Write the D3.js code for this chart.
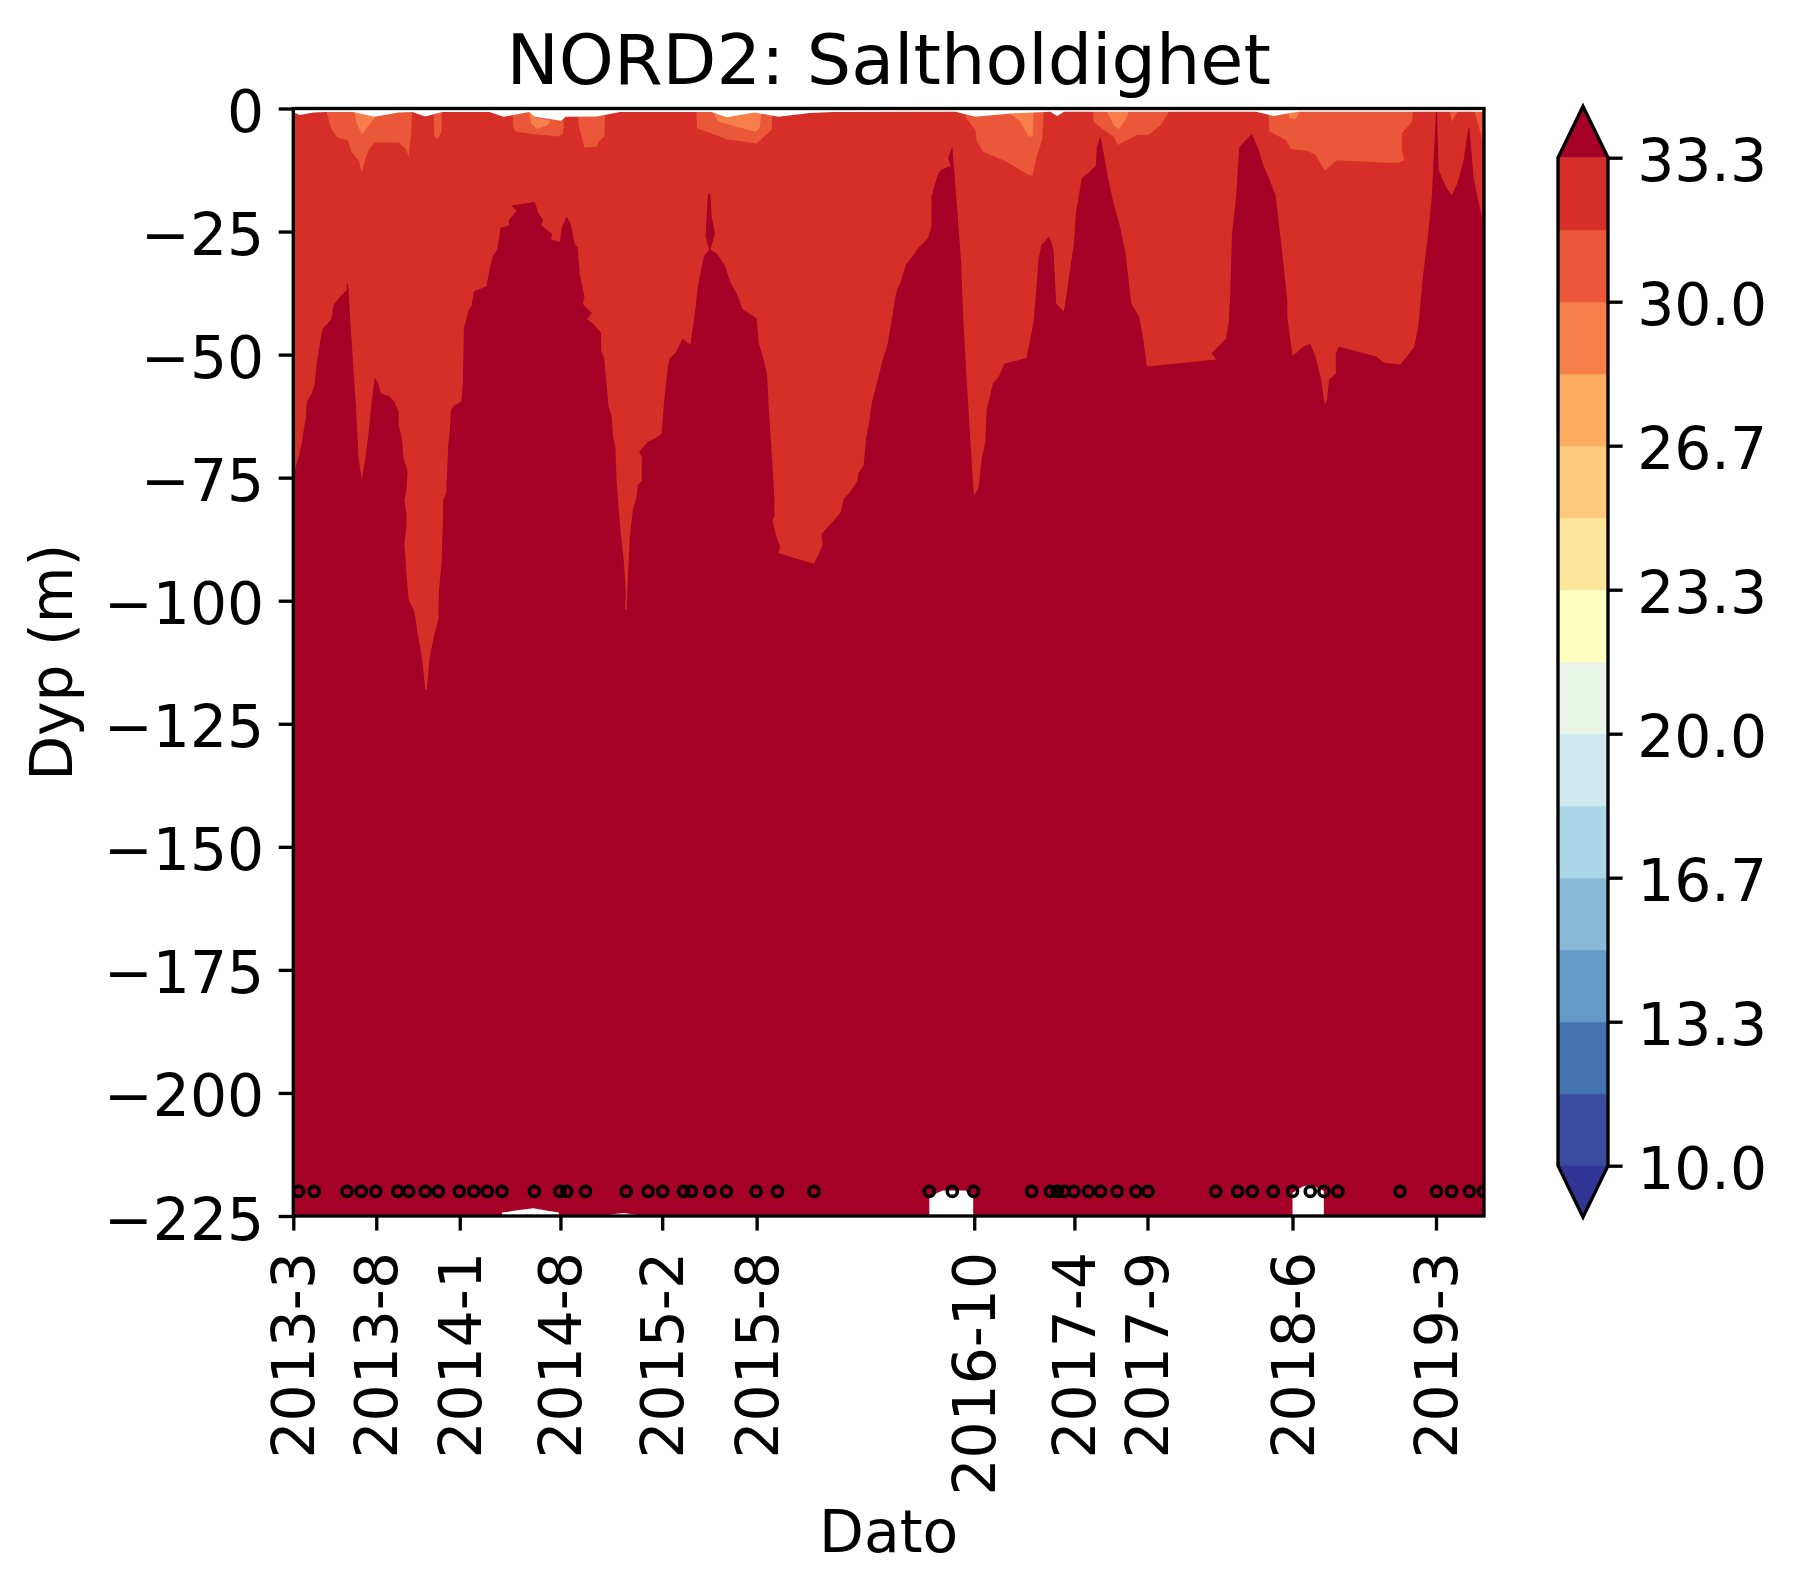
<!DOCTYPE html>
<html>
<head>
  <meta charset="utf-8">
  <title>NORD2: Saltholdighet</title>
  <script src="https://d3js.org/d3.v7.min.js"></script>
  <style>
    body { margin: 0; background: #fff; }
    text { font-family: "DejaVu Sans", sans-serif; fill: #000; }
  </style>
</head>
<body>
  <div id="chart"></div>
  <script>
// all x values are days since the first sample (2013-3)
const tickDays = [0, 159, 319, 512, 707, 888, 1305, 1497, 1637, 1915, 2190];
const tickLabels = ["2013-3", "2013-8", "2014-1", "2014-8", "2015-2", "2015-8", "2016-10", "2017-4", "2017-9", "2018-6", "2019-3"];
const depthTicks = [0, -25, -50, -75, -100, -125, -150, -175, -200, -225];
const colorLevels = [10, 13.333, 16.667, 20, 23.333, 26.667, 30, 33.333];
const bandColors = ["#3a4ba0", "#4474b0", "#639ac6", "#8ab9d8", "#abd7e8", "#cfe9f1", "#e9f5e7", "#feffc0", "#fde69c", "#fdca7d", "#fdad60", "#f67f4b", "#ea5739", "#d62f27"];
const overColor = "#a50026";
const underColor = "#313694";

const sampleDays = [10, 40, 103, 130, 158, 200, 221, 253, 278, 318, 346, 372, 400, 462, 511, 524, 560, 638, 680, 708, 748, 763, 798, 830, 887, 928, 998,
  1219, 1263, 1304, 1415, 1451, 1464, 1477, 1496, 1524, 1547, 1579, 1615, 1638, 1768, 1810, 1838, 1878, 1915, 1949, 1975, 2002, 2121, 2191, 2220, 2254, 2281];
const sampleDepth = -220;

// upper edge of the deepest band (salinity above 33.3): [day, depth below surface]
const deepEdge = [[0,75],[3,73.3],[9,71.3],[16,68.1],[20,65.3],[24,62.9],[26,59.6],[35,58],[41,56],[44,52.4],[50,48.4],[56,44.8],[73,42.8],[77,40],[88,38.4],[103,36.8],[102,35.6],[105,35.6],[107,38.8],[111,46],[115,52.4],[120,60.4],[125,70.9],[131,75.3],[138,71.3],[145,65.3],[150,59.6],[156,54.7],[162,55.6],[168,57.9],[183,58.4],[194,59.6],[202,61.6],[202,64.5],[208,66.9],[211,70.9],[219,73.7],[217,77.3],[213,79.7],[217,82.5],[217,84.5],[213,88.5],[217,94.9],[221,99.8],[232,102.2],[240,107.8],[247,111.8],[253,118.1],[256,118.1],[261,111.8],[270,107],[278,103.8],[279,98.2],[284,92.5],[287,82.9],[287,79.7],[293,78.1],[297,68.5],[300,65.3],[302,61.2],[308,60.4],[322,59.6],[325,55.6],[327,44.4],[331,43.2],[335,41.2],[342,40],[346,37.2],[370,36.1],[376,32.8],[382,30],[391,28.7],[397,24.3],[414,23.7],[413,22.7],[428,20.7],[418,19.7],[463,19],[469,21.1],[479,22.7],[475,23.7],[496,25.5],[494,26.6],[511,27.1],[514,24.3],[524,21.9],[532,23.5],[539,27.5],[545,28.3],[549,33.6],[558,38.4],[555,39.7],[572,41.6],[563,42.8],[573,43.6],[590,45.6],[590,49.2],[596,50.8],[600,55.6],[604,60.4],[610,62.5],[613,66.9],[617,68.5],[620,76.5],[626,84.5],[634,92.5],[637,98.2],[636,101.8],[639,101.8],[640,98.2],[645,86.9],[651,81.3],[658,78.9],[660,76.5],[668,75.7],[668,70.9],[663,69.7],[680,67.7],[695,66.9],[706,66.1],[710,60.4],[716,54],[721,50.8],[733,49.6],[746,46.8],[761,48],[767,43.6],[771,40.4],[775,36.4],[782,32.4],[787,30],[797,28.7],[790,25.9],[793,20.3],[795,17.3],[799,17.3],[802,21.9],[808,25.5],[799,28.7],[812,29.5],[827,31.9],[839,35.6],[850,37.6],[861,40.8],[888,42.6],[892,47.6],[903,51.6],[908,54],[911,60.4],[914,65.3],[918,71.7],[922,79.7],[922,82.9],[918,83.7],[928,87.7],[933,88.9],[930,90.3],[960,91.3],[998,92.5],[1009,90.1],[1015,88.5],[1012,86.5],[1036,83.7],[1049,82.1],[1055,79.3],[1066,78.1],[1081,75.7],[1083,74.1],[1093,72.5],[1098,66.9],[1104,63.6],[1109,59.6],[1119,55.6],[1130,50.8],[1138,48.4],[1146,43.6],[1153,38.8],[1157,36.8],[1163,35.6],[1174,31.8],[1200,28.1],[1216,26.4],[1223,24],[1223,17.9],[1235,13.5],[1242,12.4],[1260,11.7],[1255,10.1],[1263,7.6],[1266,11.8],[1273,21.3],[1280,31.4],[1284,43],[1291,55.8],[1298,68],[1303,76.8],[1305,78.5],[1313,77.1],[1320,70.7],[1326,68],[1329,61.2],[1341,55.8],[1352,54.5],[1363,51.8],[1405,50.7],[1413,46.7],[1419,43],[1424,36.9],[1428,30.8],[1434,27.7],[1449,26],[1457,28.7],[1462,39.6],[1477,41.3],[1485,35.5],[1496,27.4],[1500,21.3],[1511,14.2],[1538,11.7],[1540,7.8],[1547,5.7],[1553,9.1],[1561,13.8],[1572,19.3],[1583,23.3],[1595,29.4],[1606,39.6],[1621,42.3],[1629,47],[1636,52.4],[1693,51.8],[1769,51],[1760,49.7],[1788,46.7],[1793,43],[1796,36.9],[1799,25.4],[1807,17.9],[1813,7.8],[1837,5.2],[1849,8.1],[1860,11.8],[1871,14.5],[1883,17.9],[1894,28.1],[1905,38.9],[1905,42.3],[1915,50.3],[1936,48.4],[1949,47.8],[1959,50.4],[1970,55.1],[1977,60.2],[1981,59.2],[1985,55.1],[1998,53.8],[1998,49.7],[2004,48.4],[2076,50.4],[2089,51.6],[2122,52],[2148,48.5],[2156,44.3],[2165,34.2],[2175,25.4],[2182,17.9],[2190,0.6],[2192,0.6],[2195,12.5],[2209,15.9],[2220,17.6],[2231,15.2],[2243,10.5],[2252,4],[2254,4],[2262,13.8],[2269,17.9],[2278,22],[2282,23]];

// patches of the 30-31.7 band
const midPatches = [
  [[62,0],[228,0],[226,5.1],[221,9.7],[216,8.3],[202,6.9],[156,6.9],[145,8.3],[138,10.3],[131,13.1],[126,10.7],[111,8.7],[105,6.5],[84,5.9],[72,3.9]],
  [[269,0],[285,0],[284,4.7],[276,6.3],[270,5.5]],
  [[419,0],[519,0],[517,5.1],[509,5.7],[467,5.3],[427,4.7],[422,3.9]],
  [[545,0],[598,0],[596,5.7],[585,6.7],[582,7.7],[558,7.9],[554,6.3],[547,3.5]],
  [[772,0],[918,0],[917,4.3],[888,7.1],[861,6.7],[831,6.3],[812,5.5],[774,4]],
  [[1288,0],[1439,0],[1435,6.4],[1424,10.1],[1417,13.6],[1409,13.5],[1367,10.8],[1322,8.8],[1310,6.7],[1307,4.4],[1288,1.7]],
  [[1532,0],[1682,0],[1663,3.3],[1640,5.3],[1617,5.4],[1580,7.4],[1572,5.7],[1549,4],[1534,2.7]],
  [[1868,0],[2146,0],[2144,2.7],[2125,5],[2125,8.4],[2129,10.5],[2118,11],[2091,11],[2000,10.5],[1977,12.6],[1959,9.4],[1943,8.6],[1913,8.3],[1902,6.4],[1871,4.7]],
  [[2216,0],[2235,0],[2220,2.7]],
  [[2262,0],[2282,0],[2282,7.4]]
];

// patches of the 28.3-30 band
const lightPatches = [
  [[115,0],[156,0],[156,1.9],[131,5.3],[122,3.1]],
  [[451,0],[460,0],[463,1.9],[494,2.5],[486,3.5],[467,4.1],[456,3.1]],
  [[808,0],[898,0],[894,3.9],[886,4.7],[846,3.6],[816,2.7],[808,1.5]],
  [[1375,0],[1419,0],[1417,5.7],[1409,5.7],[1394,2.7],[1375,1.1]],
  [[1557,0],[1604,0],[1595,2.3],[1582,4.2],[1572,3.4]],
  [[1905,0],[1932,0],[1921,2.2],[1909,2]]
];

// first valid depth at each point along the surface, above it there is no data
const surface = [[0,0.7],[12,1.3],[39,0.8],[62,0.7],[115,0.7],[156,1.7],[202,0.8],[228,0.7],[253,1.6],[285,0.7],[376,0.7],[403,1.7],[452,0.7],[463,1.7],[513,2.5],[522,1.7],[581,1.6],[626,0.7],[801,0.7],[831,1.8],[884,0.8],[930,1.7],[990,0.9],[1036,0.7],[1269,0.65],[1307,1.66],[1375,1],[1451,0.65],[1464,1.5],[1477,0.65],[1845,0.65],[1879,1.5],[1913,0.85],[1928,0.65],[2282,0.65]];

// holes near the bottom where the interpolation has no data
const bottomGaps = [
  [[400,225],[400,224.3],[429,223.85],[460,223.45],[490,224],[509,224.3],[509,225]],
  [[598,225],[598,224.8],[634,224.4],[659,224.8],[659,225]],
  [[1219,225],[1219,221],[1245,219.8],[1288,219.8],[1303,221],[1303,225]],
  [[1915,225],[1915,220.3],[1935,219],[1949,218.6],[1965,219.4],[1975,219.9],[1975,225]]
];

const width = 1795;
const height = 1593;
const margin = { top: 108.5, left: 293.3, right: 311, bottom: 377 };
const lw = 3.33;
const fontSize = 58.3;

const svg = d3.select("#chart").append("svg")
  .attr("width", width)
  .attr("height", height)
  .style("display", "block");

const xScale = d3.scaleLinear()
  .domain([0, 2282])
  .range([margin.left, width - margin.right]);
const yScale = d3.scaleLinear()
  .domain([-225, 0])
  .range([height - margin.bottom, margin.top]);

const contour = d3.line()
  .x(d => xScale(d[0]))
  .y(d => yScale(-d[1]));

// sample circles stop at the axes frame
svg.append("clipPath").attr("id", "frame").append("rect")
  .attr("x", margin.left)
  .attr("y", margin.top)
  .attr("width", width - margin.right - margin.left)
  .attr("height", height - margin.bottom - margin.top);

const plot = svg.append("g").attr("clip-path", "url(#frame)");

// whole field in the 31.7-33.3 colour, the other bands go on top
plot.append("path")
  .attr("d", contour([[0, 0], [2282, 0], [2282, 225], [0, 225]]) + "Z")
  .attr("fill", bandColors[13]);

plot.selectAll(".mid").data(midPatches).enter().append("path")
  .attr("class", "mid")
  .attr("d", d => contour(d) + "Z")
  .attr("fill", bandColors[12]);

plot.selectAll(".light").data(lightPatches).enter().append("path")
  .attr("class", "light")
  .attr("d", d => contour(d) + "Z")
  .attr("fill", bandColors[11]);

plot.append("path")
  .attr("d", contour(deepEdge.concat([[2282, 225], [0, 225]])) + "Z")
  .attr("fill", overColor);

plot.append("path")
  .attr("d", contour(surface.concat([[2282, 0], [0, 0]])) + "Z")
  .attr("fill", "#fff");

plot.selectAll(".gap").data(bottomGaps).enter().append("path")
  .attr("class", "gap")
  .attr("d", d => contour(d) + "Z")
  .attr("fill", "#fff");

plot.selectAll("circle").data(sampleDays).enter().append("circle")
  .attr("cx", d => xScale(d))
  .attr("cy", yScale(sampleDepth))
  .attr("r", 5)
  .attr("fill", "none")
  .attr("stroke", "#000")
  .attr("stroke-width", 3.6);

// axes
const xAxis = svg.append("g")
  .attr("transform", `translate(0,${height - margin.bottom})`)
  .call(d3.axisBottom(xScale).tickValues(tickDays).tickFormat((d, i) => tickLabels[i]).tickSize(14.6).tickPadding(14.6));
xAxis.select(".domain").remove();
xAxis.selectAll("text")
  .attr("transform", "rotate(-90)")
  .attr("text-anchor", "end")
  .attr("x", -36)
  .attr("y", 20.5)
  .attr("dy", 0)
  .attr("font-size", fontSize);

const yAxis = svg.append("g")
  .attr("transform", `translate(${margin.left},0)`)
  .call(d3.axisLeft(yScale).tickValues(depthTicks).tickFormat(d => d3.format("d")(d).replace("-", "\u2212")).tickSize(14.6).tickPadding(14.6));
yAxis.select(".domain").remove();
yAxis.selectAll("text")
  .attr("dy", 23)
  .attr("font-size", fontSize);

svg.selectAll(".tick line").attr("stroke", "#000").attr("stroke-width", lw);

svg.append("rect")
  .attr("x", margin.left)
  .attr("y", margin.top)
  .attr("width", width - margin.right - margin.left)
  .attr("height", height - margin.bottom - margin.top)
  .attr("fill", "none")
  .attr("stroke", "#000")
  .attr("stroke-width", lw);

// colorbar
const barLeft = 1558, barRight = 1608, barTop = 157.7, barBottom = 1165.7, tip = 51.5;
const cScale = d3.scaleLinear().domain([10, 33.333]).range([barBottom, barTop]);
const bandStep = (33.333 - 10) / bandColors.length;

svg.selectAll(".band").data(bandColors).enter().append("rect")
  .attr("class", "band")
  .attr("x", barLeft)
  .attr("width", barRight - barLeft)
  .attr("y", (d, i) => cScale(10 + (i + 1) * bandStep))
  .attr("height", (d, i) => cScale(10 + i * bandStep) - cScale(10 + (i + 1) * bandStep) + 0.5)
  .attr("fill", d => d);

const barMid = (barLeft + barRight) / 2;
svg.append("path")
  .attr("d", `M${barLeft},${barTop}L${barMid},${barTop - tip}L${barRight},${barTop}Z`)
  .attr("fill", overColor);
svg.append("path")
  .attr("d", `M${barLeft},${barBottom}L${barMid},${barBottom + tip}L${barRight},${barBottom}Z`)
  .attr("fill", underColor);
svg.append("path")
  .attr("d", `M${barLeft},${barTop}L${barMid},${barTop - tip}L${barRight},${barTop}L${barRight},${barBottom}L${barMid},${barBottom + tip}L${barLeft},${barBottom}Z`)
  .attr("fill", "none")
  .attr("stroke", "#000")
  .attr("stroke-width", lw);

const cAxis = svg.append("g")
  .attr("transform", `translate(${barRight},0)`)
  .call(d3.axisRight(cScale).tickValues(colorLevels).tickFormat(d3.format(".1f")).tickSize(14.6).tickPadding(14.6));
cAxis.select(".domain").remove();
cAxis.selectAll("line").attr("stroke", "#000").attr("stroke-width", lw);
cAxis.selectAll("text")
  .attr("dy", 23)
  .attr("font-size", fontSize);

// labels
svg.append("text")
  .attr("x", (margin.left + width - margin.right) / 2)
  .attr("y", 83.5)
  .attr("text-anchor", "middle")
  .attr("font-size", 70)
  .text("NORD2: Saltholdighet");

svg.append("text")
  .attr("x", (margin.left + width - margin.right) / 2)
  .attr("y", 1552)
  .attr("text-anchor", "middle")
  .attr("font-size", fontSize)
  .text("Dato");

svg.append("text")
  .attr("transform", `translate(72,${(margin.top + height - margin.bottom) / 2}) rotate(-90)`)
  .attr("text-anchor", "middle")
  .attr("font-size", fontSize)
  .text("Dyp (m)");
  </script>
</body>
</html>
